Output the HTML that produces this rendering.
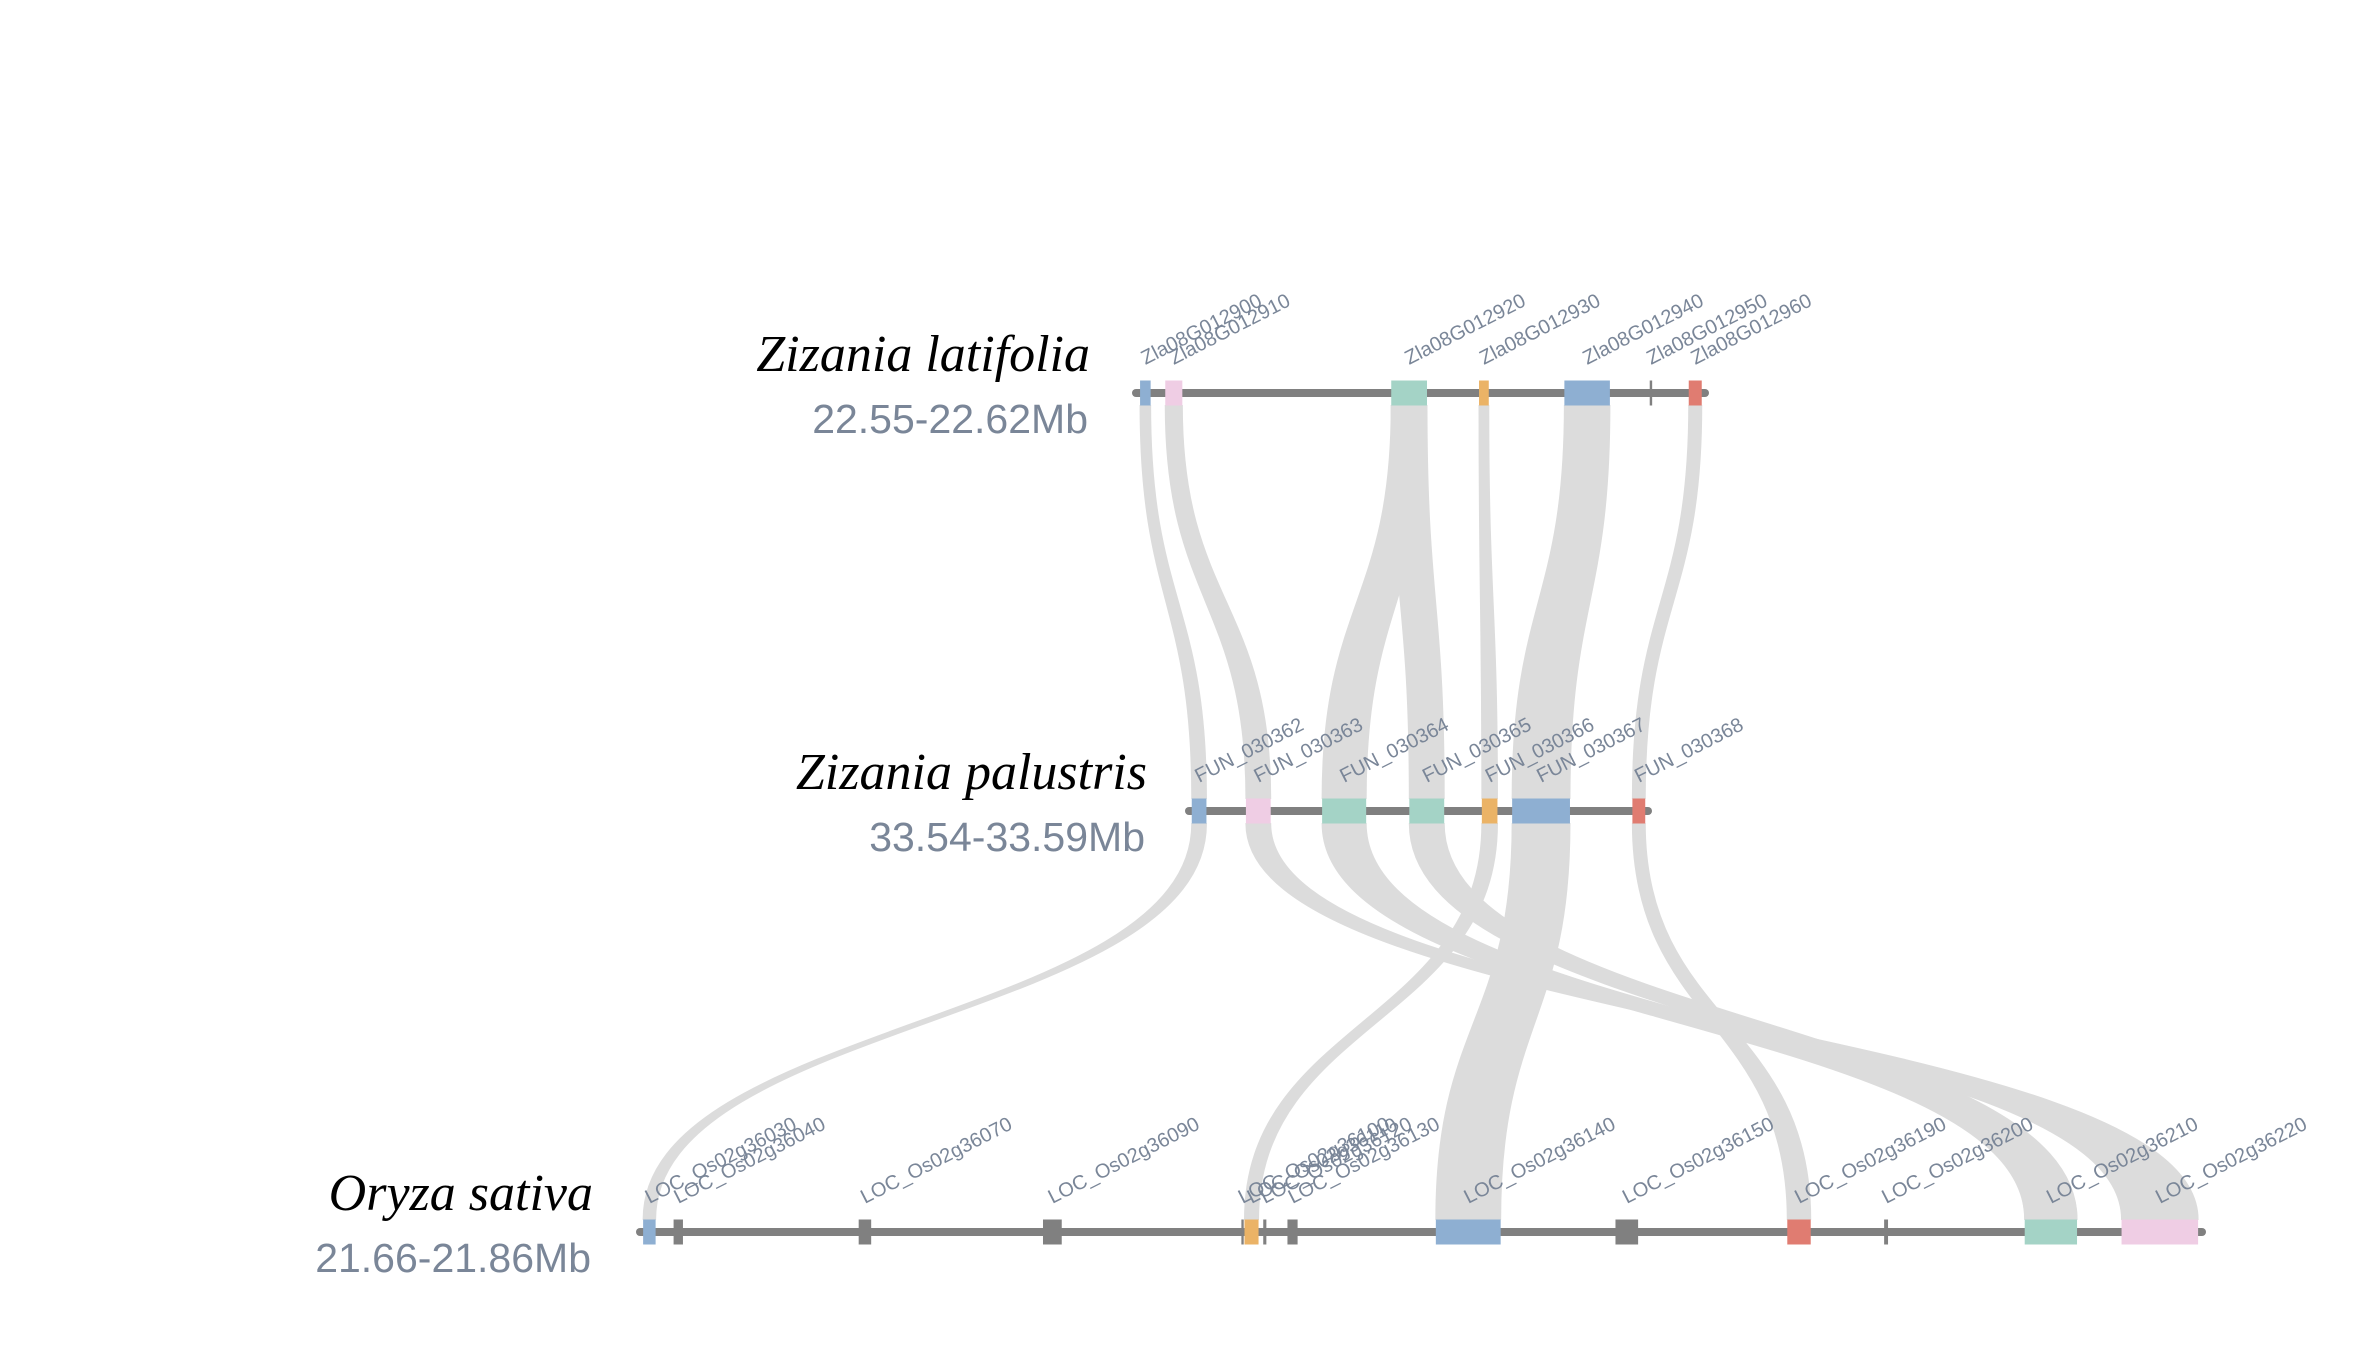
<!DOCTYPE html>
<html><head><meta charset="utf-8"><style>
html,body{margin:0;padding:0;background:#fff;}
svg{display:block;}
.ttl{font-family:"Liberation Serif",serif;font-style:italic;font-size:52px;fill:#000;}
.rng{font-family:"Liberation Sans",sans-serif;font-size:41px;fill:#7a8698;}
.lbl{font-family:"Liberation Sans",sans-serif;font-size:20px;fill:#7a8698;}
</style></head><body>
<svg id="chart" width="2370" height="1348" viewBox="0 0 2370 1348" xmlns="http://www.w3.org/2000/svg">
<g id="links"></g>
<g id="tracks"></g>
</svg>
<script>
// ---- data ----
const trackNames = ["Zizania latifolia", "Zizania palustris", "Oryza sativa"];
const trackRanges = ["22.55-22.62Mb", "33.54-33.59Mb", "21.66-21.86Mb"];
const trackSpanKb = [70, 50, 200];

const topGenes = ["Zla08G012900","Zla08G012910","Zla08G012920","Zla08G012930","Zla08G012940","Zla08G012950","Zla08G012960"];
const topStart = [0.5, 3.6, 31.4, 42.2, 52.7, 63.2, 68.0];
const topEnd   = [1.8, 5.7, 35.8, 43.4, 58.3, 63.5, 69.6];
const topColor = ["blue","pink","teal","orange","blue","gray","red"];

const midGenes = ["FUN_030362","FUN_030363","FUN_030364","FUN_030365","FUN_030366","FUN_030367","FUN_030368"];
const midStart = [0.3, 6.2, 14.5, 24.0, 31.9, 35.2, 48.3];
const midEnd   = [1.9, 8.9, 19.3, 27.8, 33.6, 41.5, 49.7];
const midColor = ["blue","pink","teal","teal","orange","blue","red"];

const botGenes = ["LOC_Os02g36030","LOC_Os02g36040","LOC_Os02g36070","LOC_Os02g36090","LOC_Os02g36100","LOC_Os02g36110","LOC_Os02g36120","LOC_Os02g36130","LOC_Os02g36140","LOC_Os02g36150","LOC_Os02g36190","LOC_Os02g36200","LOC_Os02g36210","LOC_Os02g36220"];
const botStart = [0.4, 4.3, 28.0, 51.6, 77.0, 77.4, 79.8, 82.9, 101.9, 124.9, 146.9, 159.3, 177.3, 189.7];
const botEnd   = [2.0, 5.5, 29.6, 54.0, 77.3, 79.2, 80.2, 84.2, 110.2, 127.8, 149.9, 159.8, 184.0, 199.5];
const botColor = ["blue","gray","gray","gray","gray","orange","gray","gray","blue","gray","red","gray","teal","pink"];

// links: [fromIndex, toIndex]
const linksTopMidFrom = [0,1,2,2,3,4,6];
const linksTopMidTo   = [0,1,2,3,4,5,6];
const linksMidBotFrom = [0,1,2,3,4,5,6];
const linksMidBotTo   = [0,13,12,12,5,8,10];

// ---- layout ----
const palette = {blue:"#8eafd2",pink:"#efcde4",teal:"#a4d3c6",orange:"#ebb366",red:"#e07c71",gray:"#808080"};
const trackX0 = [1136, 1189, 640];
const trackX1 = [1705, 1648, 2202];
const trackY = [393, 811, 1232];
const titleX = [1090, 1147, 593];
const blockH = 25;

const NS = "http://www.w3.org/2000/svg";
function mk(tag, attrs, parent){const e=document.createElementNS(NS,tag);for(const k in attrs)e.setAttribute(k,attrs[k]);parent.appendChild(e);return e;}
function xs(t, kb){return trackX0[t] + kb/trackSpanKb[t]*(trackX1[t]-trackX0[t]);}

const tracksG = document.getElementById('tracks');
const linksG = document.getElementById('links');
const geneSets = [[topGenes,topStart,topEnd,topColor],[midGenes,midStart,midEnd,midColor],[botGenes,botStart,botEnd,botColor]];

function ribbon(tA,sA,eA,tB,sB,eB,name){
  const ya = trackY[tA]+blockH/2, yb = trackY[tB]-blockH/2;
  const a0=xs(tA,sA), a1=xs(tA,eA), b0=xs(tB,sB), b1=xs(tB,eB);
  const my=(ya+yb)/2;
  const d=`M${a0},${ya} C${a0},${my} ${b0},${my} ${b0},${yb} L${b1},${yb} C${b1},${my} ${a1},${my} ${a1},${ya} Z`;
  const p = mk('path',{d:d,fill:'#dcdcdc',stroke:'#dcdcdc','stroke-width':1},linksG);
  
  
}
for(let i=0;i<linksTopMidFrom.length;i++){
  const f=linksTopMidFrom[i], t=linksTopMidTo[i];
  ribbon(0,topStart[f],topEnd[f],1,midStart[t],midEnd[t],'link-'+topGenes[f].toLowerCase()+'-'+midGenes[t].toLowerCase().replace('_','-'));
}
for(let i=0;i<linksMidBotFrom.length;i++){
  const f=linksMidBotFrom[i], t=linksMidBotTo[i];
  ribbon(1,midStart[f],midEnd[f],2,botStart[t],botEnd[t],'link-'+midGenes[f].toLowerCase().replace('_','-')+'-'+botGenes[t].toLowerCase().replace('_','-'));
}

for(let t=0;t<3;t++){
  const g = mk('g',{},tracksG);
  
  
  const ln = mk('line',{x1:trackX0[t],x2:trackX1[t],y1:trackY[t],y2:trackY[t],stroke:'#808080','stroke-width':8,'stroke-linecap':'round'},g);
  
  
  const tt = mk('text',{x:titleX[t],y:trackY[t]-22,'text-anchor':'end',class:'ttl'},g);
  tt.textContent = trackNames[t];
  
  
  const rt = mk('text',{x:titleX[t]-2,y:trackY[t]+40,'text-anchor':'end',class:'rng'},g);
  rt.textContent = trackRanges[t];
  
  
  const [names,st,en,col] = geneSets[t];
  for(let i=0;i<names.length;i++){
    const x0=xs(t,st[i]), x1=xs(t,en[i]);
    const r = mk('rect',{x:x0,y:trackY[t]-blockH/2,width:Math.max(x1-x0,2),height:blockH,fill:palette[col[i]]},g);
    
    
    const lx = (x0+x1)/2, ly = trackY[t]-28;
    const tx = mk('text',{x:lx,y:ly,class:'lbl',transform:`rotate(-27 ${lx} ${ly})`},g);
    tx.textContent = names[i];
    
    
  }
}
</script>
</body></html>
